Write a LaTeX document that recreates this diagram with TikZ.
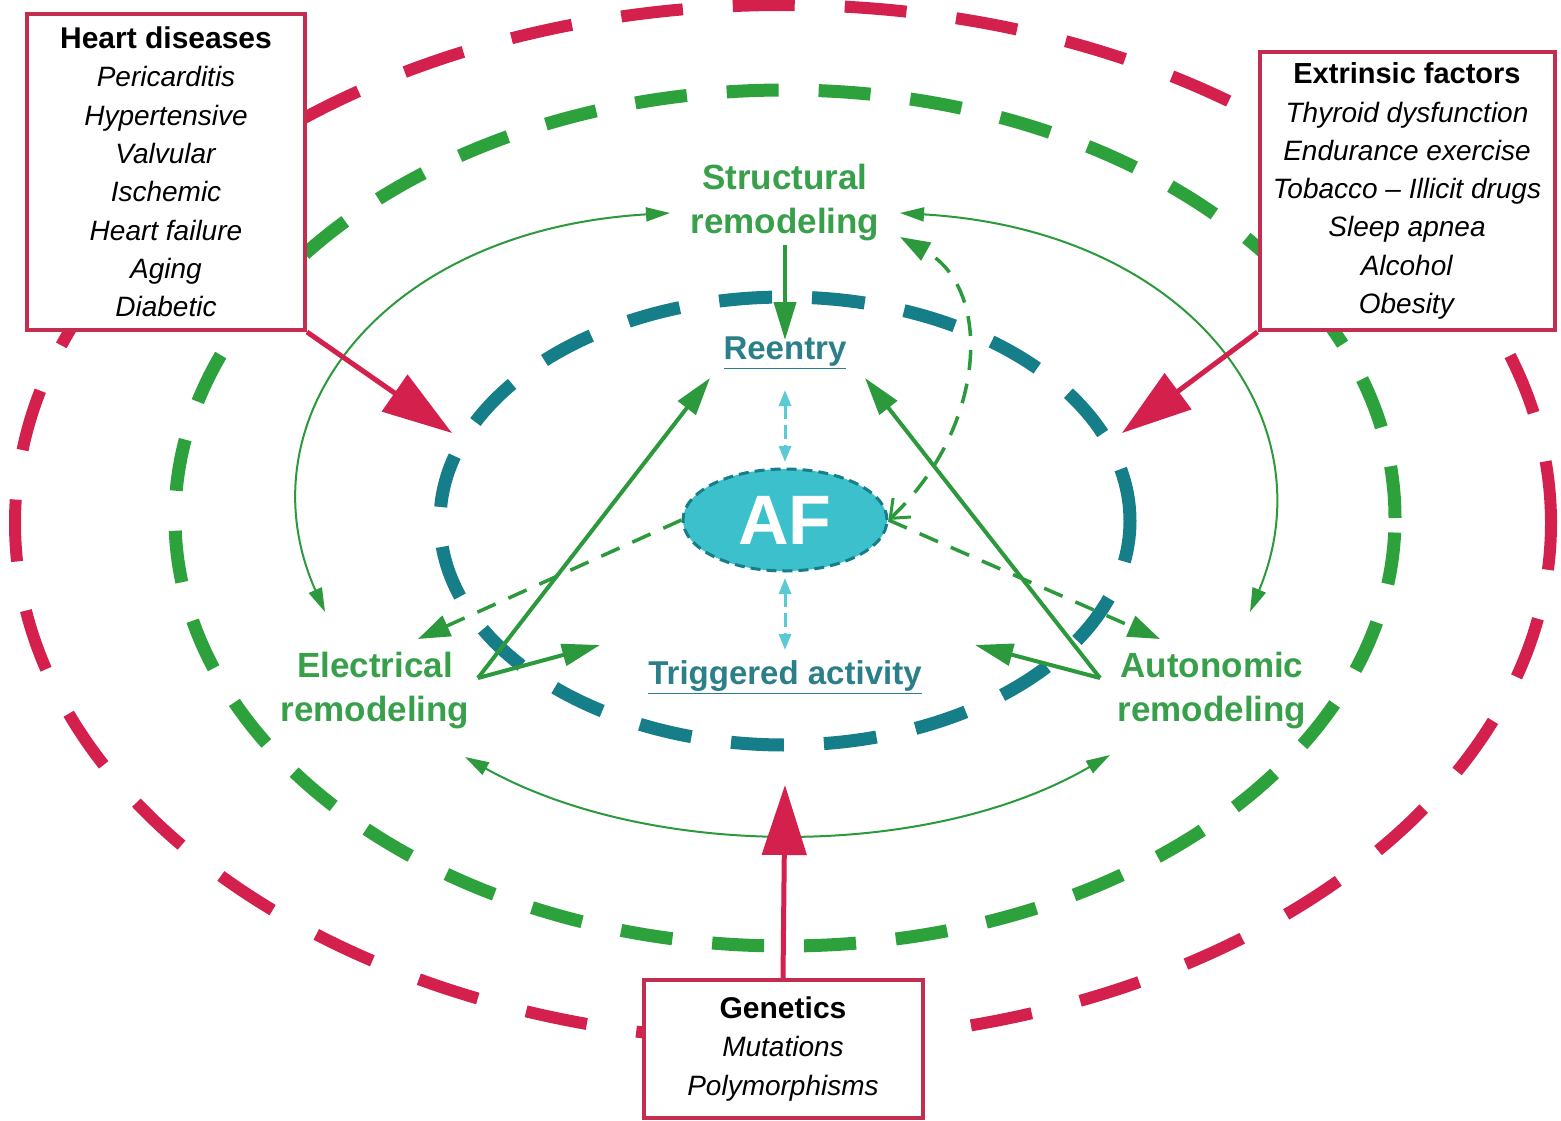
\documentclass[tikz,border=0pt]{standalone}
\usepackage{fontspec}
\setmainfont{Liberation Sans}
\usetikzlibrary{arrows.meta,shapes.geometric}
\definecolor{cred}{HTML}{D4204C}
\definecolor{cboxred}{HTML}{C42D50}
\definecolor{cgreen}{HTML}{2DA23C}
\definecolor{cgtext}{HTML}{38A04A}
\definecolor{cline}{HTML}{2C9A3C}
\definecolor{cteal}{HTML}{167E88}
\definecolor{cttext}{HTML}{2A7F88}
\definecolor{ccyan}{HTML}{3CC0CB}
\definecolor{ccyanarr}{HTML}{5CCAD4}
\begin{document}
\begin{tikzpicture}[x=1pt,y=-1pt,
  ring/.style={line width=13pt},
  factorbox/.style={draw=cboxred, line width=4pt, fill=white, align=center, font=\fontsize{28}{38.3}\selectfont, inner sep=0pt},
  boxtitle/.style={},
  remlabel/.style={text=cgtext, font=\bfseries\fontsize{35}{44}\selectfont, align=center, inner sep=0pt},
  mechlabel/.style={text=cttext, font=\bfseries\fontsize{33}{40}\selectfont, inner sep=0pt},
  bigred/.style={draw=cred, line width=5pt, -{Triangle[length=70pt,width=44pt]}},
  solidg/.style={draw=cline, line width=4pt, -{Triangle[length=38pt,width=22pt]}},
  thing/.style={draw=cline, line width=2pt, {Triangle[length=24pt,width=14pt]}-{Triangle[length=24pt,width=14pt]}},
  dashg/.style={draw=cline, line width=3.5pt, dash pattern=on 20pt off 14pt},
  cyanarr/.style={draw=ccyanarr, line width=3pt, dash pattern=on 14pt off 6pt, {Triangle[length=16pt,width=12pt]}-{Triangle[length=16pt,width=12pt]}},
]
\useasboundingbox[fill=white] (0,0) rectangle (1561,1121);

% concentric dashed rings
\draw[cred, line width=12pt, dash pattern=on 62pt off 50pt] (783,523) ellipse [x radius=768pt, y radius=518pt];
\draw[cgreen, ring, dash pattern=on 52pt off 40pt] (785,518) ellipse [x radius=610pt, y radius=428pt];
\draw[cteal, ring, dash pattern=on 53pt off 40pt] (785,521) ellipse [x radius=345pt, y radius=224pt];

% labels
\node[remlabel] (struct) at (785,203) {Structural\\remodeling};
\node[remlabel] (elec) at (375,691) {Electrical\\remodeling};
\node[remlabel] (auto) at (1212,691) {Autonomic\\remodeling};
\node[mechlabel] (reentry) at (785,353) {\underline{Reentry}};
\node[mechlabel] (trig) at (785,677) {\underline{Triggered activity}};
\node[ellipse, fill=ccyan, draw=cteal, line width=3pt, dash pattern=on 10pt off 6pt,
      minimum width=204pt, minimum height=102pt, inner sep=0pt,
      text=white, font=\bfseries\fontsize{70}{70}\selectfont] (af) at (785,520) {AF};

% coordinates
\coordinate (eapex) at (478,678);
\coordinate (aapex) at (1100,678);
\coordinate (reL) at (710,378);
\coordinate (reR) at (865,378);
\coordinate (trL) at (600,645);
\coordinate (trR) at (975,645);
\coordinate (stBot) at (785,245);
\coordinate (reTop) at (785,340);
\coordinate (elTip) at (418,639);
\coordinate (auTip) at (1160,639);
\coordinate (stDash) at (900,237);
\coordinate (elTop) at (325,612);
\coordinate (stL) at (670,213);
\coordinate (auTop) at (1250,612);
\coordinate (stR) at (900,213);
\coordinate (elBot) at (465,757);
\coordinate (auBot) at (1110,755);
\coordinate (hdTip) at (452,433);
\coordinate (exTip) at (1122,433);
\coordinate (geTip) at (785,785);
\coordinate (c1) at (785,390);
\coordinate (c2) at (785,462);
\coordinate (c3) at (785,578);
\coordinate (c4) at (785,650);

% thin curved bidirectional arrows
\draw[thing] (elTop) .. controls (240,420) and (380,230) .. (stL);
\draw[thing] (auTop) .. controls (1330,420) and (1190,230) .. (stR);
\draw[thing] (elBot) .. controls (650,860) and (930,860) .. (auBot);

% solid arrows
\draw[solidg] (stBot) -- (reTop);
\draw[solidg] (eapex) -- (reL);
\draw[solidg] (eapex) -- (trL);
\draw[solidg] (aapex) -- (reR);
\draw[solidg] (aapex) -- (trR);

% dashed arrows from AF
\draw[dashg, -{Triangle[length=32pt,width=22pt]}] (af.west) -- (elTip);
\draw[dashg, -{Triangle[length=32pt,width=22pt]}] (af.east) -- (auTip);
\draw[dashg, {Straight Barb[length=16pt,width=26pt,line width=3pt]}-{Triangle[length=30pt,width=20pt]}] (af.east) .. controls (985,430) and (995,290) .. (stDash);

% cyan arrows
\draw[cyanarr] (c1) -- (c2);
\draw[cyanarr] (c3) -- (c4);

% factor boxes
\node[factorbox, minimum width=278pt, minimum height=316pt] (heart) at (166,172)
  {{\fontsize{30}{38.3}\selectfont\bfseries Heart diseases}\\\textit{Pericarditis}\\\textit{Hypertensive}\\\textit{Valvular}\\\textit{Ischemic}\\\textit{Heart failure}\\\textit{Aging}\\\textit{Diabetic}};
\node[factorbox, minimum width=295pt, minimum height=278pt] (extr) at (1407,191)
  {{\fontsize{29}{38.3}\selectfont\bfseries Extrinsic factors}\\\textit{Thyroid dysfunction}\\\textit{Endurance exercise}\\\textit{Tobacco -- Illicit drugs}\\\textit{Sleep apnea}\\\textit{Alcohol}\\\textit{Obesity}};
\node[factorbox, minimum width=279pt, minimum height=138pt] (gen) at (783,1049)
  {{\fontsize{30}{38.3}\selectfont\bfseries Genetics}\\\textit{Mutations}\\\textit{Polymorphisms}};

% red arrows
\draw[bigred] (heart.south east) -- (hdTip);
\draw[bigred] (extr.south west) -- (exTip);
\draw[bigred] (gen.north) -- (geTip);
\end{tikzpicture}
\end{document}
